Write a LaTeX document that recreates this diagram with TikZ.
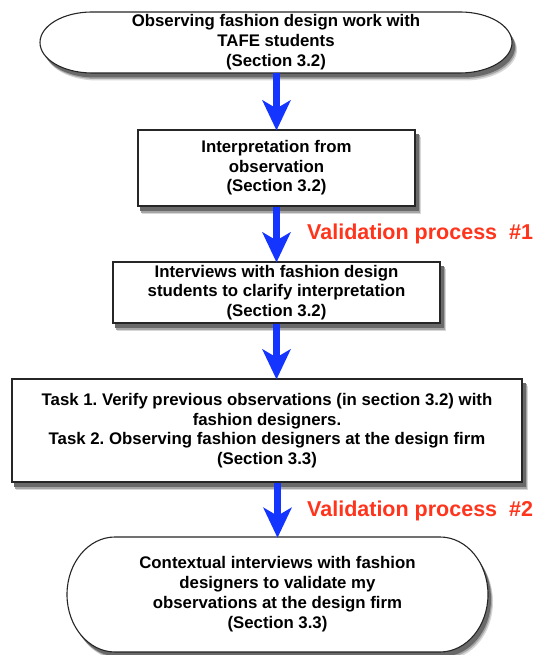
\documentclass[tikz,border=0pt]{standalone}
\usepackage{fontspec}
\setmainfont{Liberation Sans}
\usetikzlibrary{arrows.meta,backgrounds}
\definecolor{flowblue}{RGB}{20,52,255}
\definecolor{valred}{RGB}{255,52,28}
\definecolor{shadeA}{RGB}{215,215,215}
\definecolor{shadeB}{RGB}{165,165,165}
\definecolor{shadeC}{RGB}{105,105,105}
\begin{document}
\frenchspacing
\begin{tikzpicture}[x=1pt,y=1pt,
  stepbox/.style={draw=black!85,line width=1.1pt,fill=white,rectangle,align=center,
    font=\bfseries\fontsize{16.8}{19.5}\selectfont,inner sep=0pt},
  boxtext/.style={align=center,font=\bfseries\fontsize{16.8}{20}\selectfont,inner sep=0pt},
  outline/.style={draw=black!85,line width=1.1pt,fill=white},
  flow/.style={draw=flowblue,line width=7pt,-{Stealth[length=30pt,width=28pt,inset=8pt]},shorten >=-1pt},
  valtext/.style={text=valred,font=\bfseries\fontsize{21.5}{24}\selectfont,anchor=west,inner sep=0pt}]
\useasboundingbox (0,0) rectangle (539,655);

% top terminator with its shadow
\foreach \dx/\dy/\c in {5/-7.5/shadeA,4/-6/shadeB,3/-4.5/shadeC}
  \fill[\c] (92+\dx,643+\dy) -- (460+\dx,643+\dy)
    arc[start angle=90,end angle=-90,x radius=52,y radius=30.5]
    -- (92+\dx,582+\dy) arc[start angle=270,end angle=90,x radius=52,y radius=30.5] -- cycle;
\path[outline] (92,643) -- (460,643) arc[start angle=90,end angle=-90,x radius=52,y radius=30.5]
  -- (92,582) arc[start angle=270,end angle=90,x radius=52,y radius=30.5] -- cycle;
\node[boxtext,minimum width=472pt,minimum height=61pt] (start) at (276,612.5)
  {Observing fashion design work with\\TAFE students\\(Section 3.2)};

% bottom terminator with its shadow
\foreach \dx/\dy/\c in {5/-7.5/shadeA,4/-6/shadeB,3/-4.5/shadeC}
  \fill[\c] (115+\dx,118+\dy) -- (440+\dx,118+\dy)
    arc[start angle=90,end angle=-90,x radius=48,y radius=57.5]
    -- (115+\dx,3+\dy) arc[start angle=270,end angle=90,x radius=48,y radius=57.5] -- cycle;
\path[outline] (115,118) -- (440,118) arc[start angle=90,end angle=-90,x radius=48,y radius=57.5]
  -- (115,3) arc[start angle=270,end angle=90,x radius=48,y radius=57.5] -- cycle;
\node[boxtext,minimum width=421pt,minimum height=115pt] (final) at (277.5,60.5)
  {Contextual interviews with fashion\\designers to validate my\\observations at the design firm\\(Section 3.3)};

% process steps
\node[stepbox,minimum width=277pt,minimum height=76pt] (interp) at (276.5,487)
  {Interpretation from\\observation\\(Section 3.2)};
\node[stepbox,minimum width=327pt,minimum height=61pt] (interv) at (276.5,362.5)
  {Interviews with fashion design\\students to clarify interpretation\\(Section 3.2)};
\node[stepbox,minimum width=510pt,minimum height=103pt] (tasks) at (267,224.5)
  {Task 1. Verify previous observations (in section 3.2) with\\fashion designers.\\
   Task 2. Observing fashion designers at the design firm\\(Section 3.3)};

% shadows of the process steps
\begin{scope}[on background layer]
  \foreach \b in {interp,interv,tasks}
    \foreach \dx/\dy/\c in {5/-7.5/shadeA,4/-6/shadeB,3/-4.5/shadeC}
      \fill[\c] ([xshift=\dx pt,yshift=\dy pt]\b.south west)
        rectangle ([xshift=\dx pt,yshift=\dy pt]\b.north east);
\end{scope}

% connectors
\draw[flow] (start.south -| interp.north) -- (interp.north);
\draw[flow] (interp.south) -- (interv.north);
\draw[flow] (interv.south) -- (interv.south |- tasks.north);
\draw[flow] (tasks.south -| final.north) -- (final.north);

% validation labels
\node[valtext] (val1) at (307,421) {Validation process\ \ \#1};
\node[valtext] (val2) at (307,144) {Validation process\ \ \#2};
\end{tikzpicture}
\end{document}
